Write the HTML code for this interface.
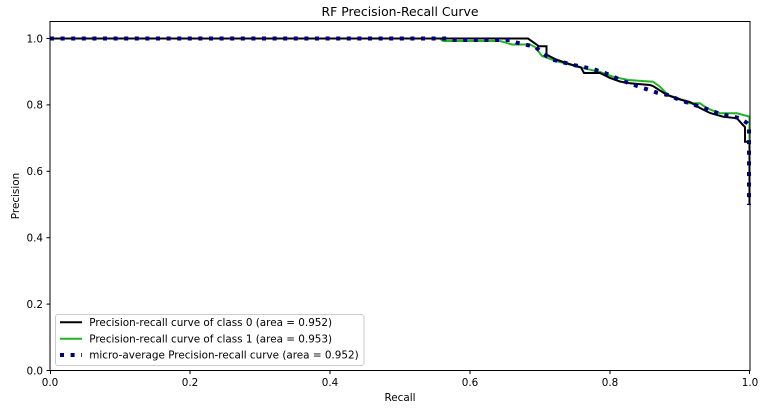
<!DOCTYPE html>
<html>
<head>
<meta charset="utf-8">
<style>
html,body{margin:0;padding:0;background:#fff;}
svg{display:block;}
text{font-family:"DejaVu Sans","Liberation Sans",sans-serif;fill:#000;}
</style>
</head>
<body>
<svg width="770" height="409" viewBox="0 0 770 409" xmlns="http://www.w3.org/2000/svg">
<rect x="0" y="0" width="770" height="409" fill="#fff"/>
<!-- title -->
<text x="400" y="16" font-size="12.4" text-anchor="middle">RF Precision-Recall Curve</text>

<!-- series -->
<g fill="none" stroke-linejoin="miter">
  <path d="M50,38.5 H440 L443,41 H500 L512,44.5 H530 L535,47 L542,56 L557,61.3 L577,66.3 L590,69.7 L600,72 L613,76.7 L628,80 L653,81.7 L660,86.7 L668,95 L683,100 L687,103.3 H700 L707,108.3 L720,113.3 H737 L749.5,116.7 V204.5" stroke="#22b422" stroke-width="2"/>
  <path d="M50,38.5 H528 L539,46.3 H546.5 V54.7 L556,59.5 L566,63 L576,66 L581,67.5 L584,73 H600 L610,78 L620,81.5 L630,83.3 L650,85 L653,86 L667,95 L680,99.5 L690,102 L700,108 L710,113 L723,116.7 L737,118.3 L743,125 L745,127 V141.7 H749.5 V204.5" stroke="#000" stroke-width="2"/>
  <path d="M50,38.5 H447 L452,40 H510 L517,42.7 L527,45 L535,46.5 L540,51 L547,56.3 L553,59.7 L563,62.3 L575,65.3 L585,67.3 L595,69.7 L605,73 L625,81.7 L637,86 L647,89.3 L657,92.7 L668,95 L678,99.3 L688,102.7 L700,106.7 L710,110 L720,114 L730,116 L740,118.3 L747,123 L749,125 V205" stroke="#000080" stroke-width="4" stroke-dasharray="4 6.6" stroke-linecap="butt"/>
</g>

<!-- axes spines -->
<rect x="50" y="21.5" width="700" height="349" fill="none" stroke="#000" stroke-width="1"/>

<!-- y ticks -->
<g stroke="#000" stroke-width="1">
  <line x1="46.5" y1="370.5" x2="50" y2="370.5"/>
  <line x1="46.5" y1="304.1" x2="50" y2="304.1"/>
  <line x1="46.5" y1="237.7" x2="50" y2="237.7"/>
  <line x1="46.5" y1="171.3" x2="50" y2="171.3"/>
  <line x1="46.5" y1="104.9" x2="50" y2="104.9"/>
  <line x1="46.5" y1="38.5" x2="50" y2="38.5"/>
</g>
<g font-size="10.4" text-anchor="end">
  <text x="43" y="374.3">0.0</text>
  <text x="43" y="307.9">0.2</text>
  <text x="43" y="241.5">0.4</text>
  <text x="43" y="175.1">0.6</text>
  <text x="43" y="108.7">0.8</text>
  <text x="43" y="42.3">1.0</text>
</g>

<!-- x ticks -->
<g stroke="#000" stroke-width="1">
  <line x1="50.5" y1="370.5" x2="50.5" y2="374"/>
  <line x1="190" y1="370.5" x2="190" y2="374"/>
  <line x1="330" y1="370.5" x2="330" y2="374"/>
  <line x1="470" y1="370.5" x2="470" y2="374"/>
  <line x1="610" y1="370.5" x2="610" y2="374"/>
  <line x1="749.5" y1="370.5" x2="749.5" y2="374"/>
</g>
<g font-size="10.4" text-anchor="middle">
  <text x="50" y="386">0.0</text>
  <text x="190" y="386">0.2</text>
  <text x="330" y="386">0.4</text>
  <text x="470" y="386">0.6</text>
  <text x="610" y="386">0.8</text>
  <text x="750" y="386">1.0</text>
</g>

<!-- axis labels -->
<text x="400" y="401" font-size="10.4" text-anchor="middle">Recall</text>
<text transform="translate(19,196) rotate(-90)" font-size="10.4" text-anchor="middle">Precision</text>

<!-- legend -->
<rect x="55.5" y="314.5" width="308.5" height="51" rx="2.5" ry="2.5" fill="#fff" fill-opacity="0.8" stroke="#cccccc" stroke-width="1"/>
<line x1="60" y1="322.3" x2="82" y2="322.3" stroke="#000" stroke-width="2"/>
<line x1="60" y1="338.7" x2="82" y2="338.7" stroke="#22b422" stroke-width="2"/>
<line x1="60" y1="355" x2="82" y2="355" stroke="#000080" stroke-width="4" stroke-dasharray="4 6.6"/>
<g font-size="10.4">
  <text x="89.3" y="326">Precision-recall curve of class 0 (area = 0.952)</text>
  <text x="89.3" y="342.4">Precision-recall curve of class 1 (area = 0.953)</text>
  <text x="89.3" y="358.7">micro-average Precision-recall curve (area = 0.952)</text>
</g>
</svg>
</body>
</html>
